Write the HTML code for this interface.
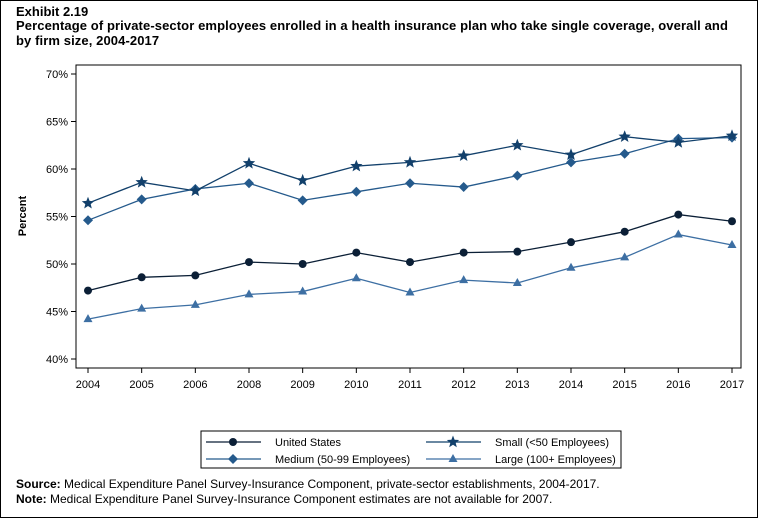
<!DOCTYPE html>
<html><head><meta charset="utf-8"><style>
body{margin:0;background:#fff;font-family:"Liberation Sans",Arial,sans-serif}
#wrap{position:relative;width:756px;height:516px;border:1px solid #000;overflow:hidden}
.t{position:absolute;font-weight:bold;font-size:13px;left:15px;line-height:15px}
.n{position:absolute;left:15px;font-size:12px}
</style></head><body>
<div id="wrap">
<div class="t" style="top:3px">Exhibit 2.19</div>
<div class="t" style="top:17px;width:730px;letter-spacing:0.1px">Percentage of private-sector employees enrolled in a health insurance plan who take single coverage, overall and by firm size, 2004-2017</div>
<svg id="chart" width="756" height="516" style="position:absolute;left:0;top:0"></svg>
<div class="n" style="top:476px"><b>Source:</b> Medical Expenditure Panel Survey-Insurance Component, private-sector establishments, 2004-2017.</div>
<div class="n" style="top:491px"><b>Note:</b> Medical Expenditure Panel Survey-Insurance Component estimates are not available for 2007.</div>
</div>
<script>
const years=["2004","2005","2006","2008","2009","2010","2011","2012","2013","2014","2015","2016","2017"];
const yTicks=[40,45,50,55,60,65,70];
const usVals=[47.2,48.6,48.8,50.2,50.0,51.2,50.2,51.2,51.3,52.3,53.4,55.2,54.5];
const smallVals=[56.4,58.6,57.7,60.6,58.8,60.3,60.7,61.4,62.5,61.5,63.4,62.8,63.5];
const mediumVals=[54.6,56.8,57.9,58.5,56.7,57.6,58.5,58.1,59.3,60.7,61.6,63.2,63.3];
const largeVals=[44.2,45.3,45.7,46.8,47.1,48.5,47.0,48.3,48.0,49.6,50.7,53.1,52.0];
const svg=document.getElementById('chart');const NS='http://www.w3.org/2000/svg';
function mk(t,a,p){const e=document.createElementNS(NS,t);for(const k in a)e.setAttribute(k,a[k]);(p||svg).appendChild(e);return e;}
const xS=i=>87+i*(731-87)/(years.length-1);
const yS=v=>358-(v-40)*9.5;
let e=mk('rect',{x:75,y:64,width:665,height:303,fill:'none',stroke:'#000','stroke-width':1});


yTicks.forEach(v=>{const y=yS(v);
 let l=mk('line',{x1:70,x2:75,y1:y,y2:y,stroke:'#000'});
 
 
 let t=mk('text',{x:67,y:y+4,'text-anchor':'end','font-size':11});t.textContent=v+'%';
 
 });
years.forEach((yr,i)=>{const x=xS(i);
 let l=mk('line',{x1:x,x2:x,y1:367,y2:372,stroke:'#000'});
 
 
 let t=mk('text',{x:x,y:387,'text-anchor':'middle','font-size':11});t.textContent=yr;
 
 });
let yt=mk('text',{x:25,y:215,'text-anchor':'middle','font-size':11,'font-weight':'bold',transform:'rotate(-90 25 215)'});yt.textContent='Percent';


function marker(type,x,y,c,g){
 if(type==='circle')return mk('circle',{cx:x,cy:y,r:4,fill:c},g);
 if(type==='diamond')return mk('polygon',{points:`${x},${y-5} ${x+5},${y} ${x},${y+5} ${x-5},${y}`,fill:c},g);
 if(type==='tri')return mk('polygon',{points:`${x},${y-5} ${x+4.5},${y+3} ${x-4.5},${y+3}`,fill:c},g);
 let p=[];for(let k=0;k<10;k++){const r=k%2?2.8:6.5,a=-Math.PI/2+k*Math.PI/5;p.push((x+r*Math.cos(a)).toFixed(1)+','+(y+r*Math.sin(a)).toFixed(1));}
 return mk('polygon',{points:p.join(' '),fill:c},g);}
const series=[[largeVals,'#3d6fa3','tri','series-large'],[usVals,'#0b1f36','circle','series-united-states'],[mediumVals,'#255a8c','diamond','series-medium'],[smallVals,'#12406b','star','series-small']];
series.forEach(([vals,c,m,name])=>{const g=mk('g',{});
 
 
 mk('polyline',{points:vals.map((v,i)=>xS(i)+','+yS(v)).join(' '),fill:'none',stroke:c,'stroke-width':1.3},g);
 vals.forEach((v,i)=>{const mm=marker(m,xS(i),yS(v),c,g);
  
  });});
const lg=mk('g',{});


mk('rect',{x:200,y:430,width:420,height:37,fill:'#fff',stroke:'#000'},lg);
[['United States','#0b1f36','circle',205,441],['Small (<50 Employees)','#12406b','star',425,441],['Medium (50-99 Employees)','#255a8c','diamond',205,458],['Large (100+ Employees)','#3d6fa3','tri',425,458]].forEach(([lab,c,m,x,y])=>{
 const g=mk('g',{},lg);
 
 
 mk('line',{x1:x,x2:x+55,y1:y,y2:y,stroke:c,'stroke-width':1.3},g);
 marker(m,x+27,y,c,g);
 const t=mk('text',{x:x+69,y:y+4,'font-size':11},g);t.textContent=lab;});
</script>
</body></html>
